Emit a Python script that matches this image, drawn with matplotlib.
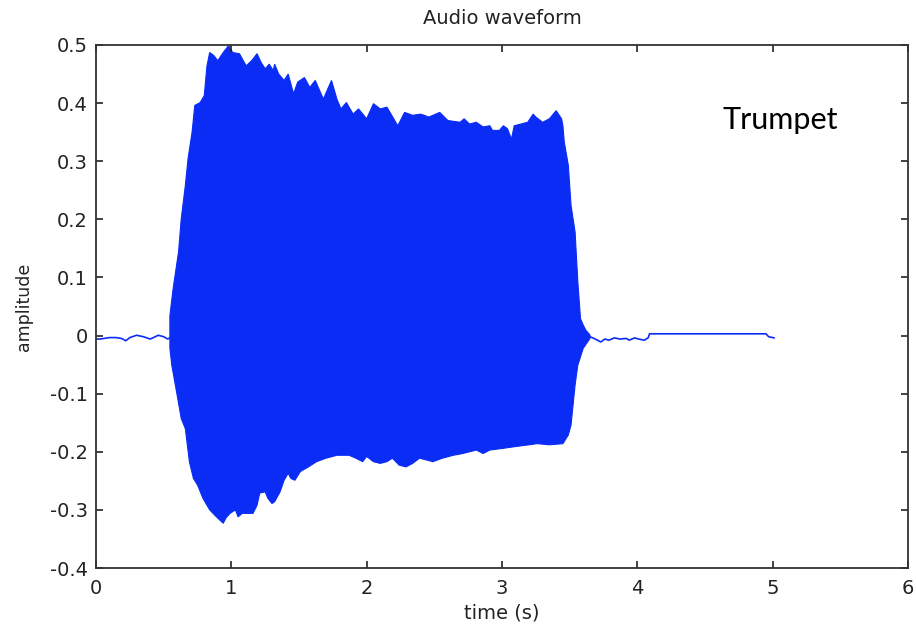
import numpy as np
import matplotlib.pyplot as plt

# envelope of the trumpet note
upper_t = [0.546, 0.57, 0.61, 0.63, 0.66, 0.68, 0.71, 0.73, 0.77, 0.80, 0.82, 0.84,
           0.87, 0.90, 0.94, 0.98, 1.01, 1.06, 1.11, 1.15, 1.19, 1.22, 1.25, 1.28,
           1.31, 1.32, 1.35, 1.39, 1.42, 1.46, 1.49, 1.54, 1.58, 1.62, 1.68, 1.74,
           1.78, 1.81, 1.85, 1.90, 1.94, 2.00, 2.05, 2.10, 2.15, 2.18, 2.23, 2.28,
           2.34, 2.40, 2.46, 2.54, 2.60, 2.69, 2.72, 2.76, 2.81, 2.86, 2.91, 2.93,
           2.98, 3.01, 3.04, 3.07, 3.09, 3.14, 3.19, 3.23, 3.25, 3.30, 3.35, 3.40,
           3.44, 3.45, 3.46, 3.49, 3.51, 3.54, 3.56, 3.58, 3.60, 3.62, 3.65]
upper_a = [0.034, 0.081, 0.144, 0.201, 0.258, 0.304, 0.350, 0.396, 0.401, 0.413, 0.464, 0.487,
           0.482, 0.473, 0.487, 0.499, 0.487, 0.485, 0.464, 0.473, 0.485, 0.470, 0.459, 0.467,
           0.456, 0.467, 0.450, 0.439, 0.450, 0.416, 0.436, 0.444, 0.427, 0.439, 0.407, 0.439,
           0.407, 0.390, 0.401, 0.381, 0.390, 0.373, 0.399, 0.390, 0.393, 0.381, 0.361, 0.384,
           0.379, 0.381, 0.376, 0.384, 0.370, 0.367, 0.373, 0.364, 0.367, 0.359, 0.361, 0.353,
           0.353, 0.361, 0.356, 0.338, 0.361, 0.364, 0.367, 0.381, 0.376, 0.367, 0.373, 0.387,
           0.373, 0.361, 0.333, 0.293, 0.224, 0.178, 0.093, 0.029, 0.018, 0.009, 0.001]

lower_t = [0.546, 0.546, 0.56, 0.60, 0.63, 0.66, 0.69, 0.72, 0.75, 0.79, 0.84, 0.89,
           0.94, 0.96, 0.99, 1.03, 1.05, 1.08, 1.12, 1.16, 1.19, 1.21, 1.25, 1.27,
           1.30, 1.32, 1.36, 1.39, 1.42, 1.44, 1.47, 1.51, 1.57, 1.63, 1.70, 1.78,
           1.87, 1.92, 1.97, 2.00, 2.05, 2.10, 2.15, 2.19, 2.24, 2.29, 2.34, 2.39,
           2.44, 2.49, 2.56, 2.64, 2.71, 2.81, 2.86, 2.91, 3.01, 3.10, 3.20, 3.26,
           3.35, 3.45, 3.49, 3.51, 3.53, 3.54, 3.56, 3.60, 3.65]
lower_a = [0.0, -0.022, -0.051, -0.103, -0.143, -0.160, -0.217, -0.246, -0.257, -0.280, -0.300, -0.312,
           -0.323, -0.314, -0.306, -0.300, -0.312, -0.306, -0.306, -0.306, -0.292, -0.271, -0.269, -0.280,
           -0.289, -0.286, -0.269, -0.249, -0.237, -0.246, -0.249, -0.234, -0.226, -0.217, -0.211, -0.206,
           -0.206, -0.211, -0.217, -0.208, -0.217, -0.220, -0.217, -0.211, -0.223, -0.226, -0.220, -0.211,
           -0.214, -0.217, -0.211, -0.206, -0.203, -0.197, -0.203, -0.197, -0.194, -0.191, -0.188, -0.186,
           -0.188, -0.186, -0.171, -0.154, -0.108, -0.085, -0.051, -0.022, -0.005]

# quiet parts before and after the note
pre_t = [0.0, 0.03, 0.10, 0.15, 0.19, 0.22, 0.25, 0.30, 0.35, 0.40, 0.42, 0.46, 0.50, 0.53, 0.546]
pre_a = [-0.006, -0.006, -0.0035, -0.0035, -0.005, -0.009, -0.0035, 0.0005, -0.002, -0.006, -0.004,
         0.0005, -0.002, -0.006, -0.004]
post_t = [3.65, 3.68, 3.73, 3.76, 3.79, 3.83, 3.87, 3.92, 3.94, 3.98, 4.01, 4.05, 4.08, 4.09,
          4.95, 4.97, 5.01]
post_a = [-0.002, -0.005, -0.011, -0.006, -0.008, -0.004, -0.006, -0.005, -0.008, -0.004, -0.006,
          -0.008, -0.004, 0.003, 0.003, -0.002, -0.004]

blue = '#0a2cf5'

fig = plt.figure(figsize=(9.16, 6.3), dpi=100)
ax = fig.add_axes([0.1048, 0.0984, 0.8865, 0.8302])

poly_t = np.concatenate([upper_t, lower_t[::-1]])
poly_a = np.concatenate([upper_a, lower_a[::-1]])
ax.fill(poly_t, poly_a, color=blue, lw=0.8, ec=blue)
ax.plot(pre_t, pre_a, color=blue, lw=1.2)
ax.plot(post_t, post_a, color=blue, lw=1.2)

ax.set_xlim(0, 6)
ax.set_ylim(-0.4, 0.5)
ax.set_xticks(np.arange(0, 7, 1))
ax.set_yticks(np.round(np.arange(-0.4, 0.51, 0.1), 1))
ax.set_yticklabels(['-0.4', '-0.3', '-0.2', '-0.1', '0', '0.1', '0.2', '0.3', '0.4', '0.5'])
ax.tick_params(direction='in', length=5, width=1.2, top=True, right=True,
               labelsize=14, colors='#222222')
ax.tick_params(axis='x', pad=8)
ax.tick_params(axis='y', pad=6)
for s in ax.spines.values():
    s.set_linewidth(1.3)
    s.set_color('#333333')

ax.set_title('Audio waveform', fontsize=14, color='#222222', pad=15)
ax.set_xlabel('time (s)', fontsize=14, color='#222222', labelpad=4)
ax.set_ylabel('amplitude', fontsize=12.5, color='#222222', labelpad=12)

ax.text(4.63, 0.356, 'Trumpet', fontsize=22, family='Lato', color='black', va='baseline')

fig.savefig('out.png', dpi=100)
